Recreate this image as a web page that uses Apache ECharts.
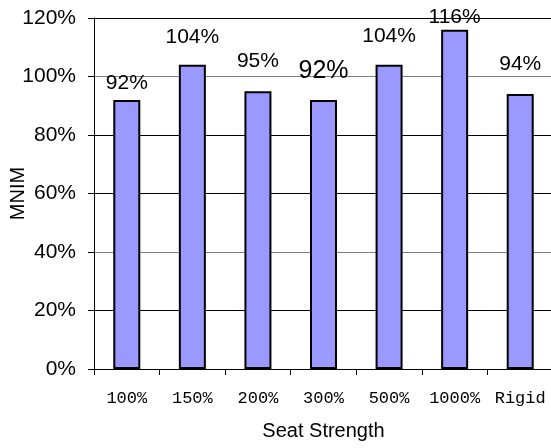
<!DOCTYPE html>
<html>
<head>
<meta charset="utf-8">
<script src="https://cdn.jsdelivr.net/npm/echarts@6/dist/echarts.min.js"></script>
<style>
  html, body { margin: 0; padding: 0; background: #fff; }
  #chart { width: 551px; height: 448px; }
</style>
</head>
<body>
<div id="chart"></div>
<script>
// Seat strength categories and the MNIM ratio (percent) for each
const categories = ['100%', '150%', '200%', '300%', '500%', '1000%', 'Rigid'];
const mnim = [92, 104, 95, 92, 104, 116, 94];
const yTicks = [0, 20, 40, 60, 80, 100, 120];

// How far each value label sits above its bar, and its font size
const labelLift = [6, 17, 19, 16, 18, 2, 19];
const labelSize = [21, 21, 21, 25, 21, 21, 21];

const sans = '"Liberation Sans", Arial, sans-serif';
const mono = '"Liberation Mono", "Courier New", monospace';

const chart = echarts.init(document.getElementById('chart'));
chart.setOption({
  animation: false,
  backgroundColor: '#fff',
  // the plot runs slightly past the right edge of the canvas
  grid: { left: 94, top: 18, width: 459, bottom: 79, containLabel: false, outerBoundsMode: 'none' },
  xAxis: {
    type: 'category',
    data: categories,
    name: 'Seat Strength',
    nameLocation: 'middle',
    nameGap: 52,
    nameMoveOverlap: false,
    nameTextStyle: { fontFamily: sans, fontSize: 20, color: '#000' },
    axisLine: { lineStyle: { color: '#000', width: 1 } },
    axisTick: { show: true, interval: 0, length: 6, alignWithLabel: false, lineStyle: { color: '#000' } },
    axisLabel: { interval: 0, fontFamily: mono, fontSize: 17, color: '#000', margin: 21 },
    splitLine: { show: false }
  },
  yAxis: {
    type: 'value',
    min: yTicks[0],
    max: yTicks[yTicks.length - 1],
    interval: 20,
    name: 'MNIM',
    nameLocation: 'middle',
    nameGap: 66,
    nameMoveOverlap: false,
    nameTextStyle: { fontFamily: sans, fontSize: 20, color: '#000' },
    axisLine: { show: true, lineStyle: { color: '#000', width: 1 } },
    axisTick: { show: true, length: 6, lineStyle: { color: '#000' } },
    axisLabel: { fontFamily: sans, fontSize: 21, color: '#000', margin: 18, formatter: '{value}%' },
    splitLine: {
      show: true,
      lineStyle: { color: ['#000', '#000', '#808080', '#000', '#000', '#808080', '#000'], width: 1 }
    }
  },
  series: [{
    type: 'bar',
    barWidth: 27,
    data: mnim.map((v, i) => ({
      value: v,
      label: { distance: labelLift[i], fontSize: labelSize[i] }
    })),
    itemStyle: { color: '#9999ff', borderColor: '#000', borderWidth: 2 },
    label: {
      show: true,
      position: 'top',
      fontFamily: sans,
      color: '#000',
      formatter: p => p.value + '%'
    }
  }]
});
</script>
</body>
</html>
